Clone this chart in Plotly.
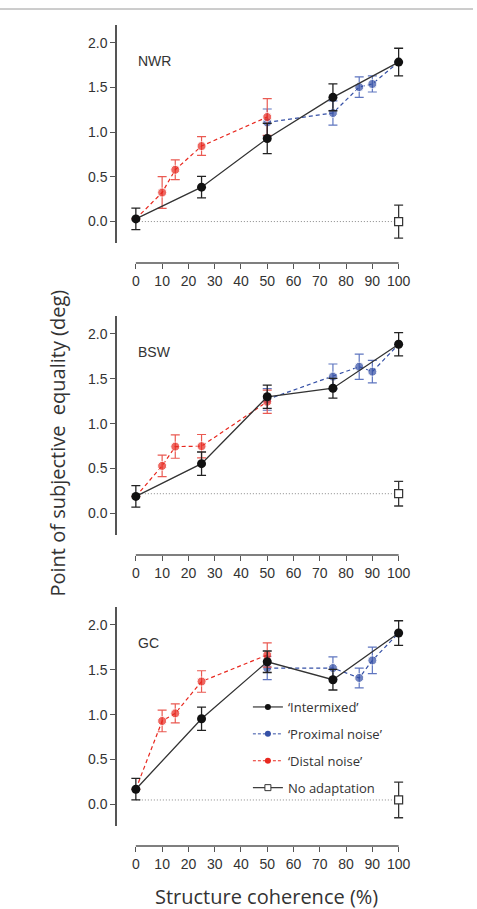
import plotly.graph_objects as go

W, H = 477, 909

panels = ["NWR", "BSW", "GC"]

inter_x = [0, 25, 50, 75, 100]
inter_y = {
    "NWR": [0.03, 0.385, 0.93, 1.39, 1.785],
    "BSW": [0.19, 0.555, 1.30, 1.395, 1.885],
    "GC":  [0.17, 0.955, 1.59, 1.39, 1.91],
}
inter_e = {
    "NWR": [0.12, 0.12, 0.17, 0.15, 0.155],
    "BSW": [0.12, 0.13, 0.13, 0.11, 0.13],
    "GC":  [0.12, 0.13, 0.12, 0.115, 0.137],
}

distal_x = [10, 15, 25, 50]
distal_y = {
    "NWR": [0.325, 0.58, 0.845, 1.17],
    "BSW": [0.53, 0.745, 0.75, 1.245],
    "GC":  [0.93, 1.015, 1.37, 1.665],
}
distal_e = {
    "NWR": [0.178, 0.11, 0.105, 0.205],
    "BSW": [0.12, 0.13, 0.13, 0.13],
    "GC":  [0.12, 0.105, 0.12, 0.135],
}

prox_x = [50, 75, 85, 90]
prox_y = {
    "NWR": [1.11, 1.215, 1.505, 1.54],
    "BSW": [1.27, 1.525, 1.635, 1.58],
    "GC":  [1.52, 1.52, 1.41, 1.605],
}
prox_e = {
    "NWR": [0.15, 0.135, 0.115, 0.09],
    "BSW": [0.12, 0.14, 0.14, 0.125],
    "GC":  [0.13, 0.125, 0.11, 0.148],
}

noadapt_x = 100
noadapt_y = {"NWR": 0.0, "BSW": 0.22, "GC": 0.05}
noadapt_e = {"NWR": 0.185, "BSW": 0.137, "GC": 0.198}

x_ticks = [0, 10, 20, 30, 40, 50, 60, 70, 80, 90, 100]
y_ticks = [0.0, 0.5, 1.0, 1.5, 2.0]
y_ticktext = ["0.0", "0.5", "1.0", "1.5", "2.0"]

legend_names = ["\u2018Intermixed\u2019", "\u2018Proximal noise\u2019",
                "\u2018Distal noise\u2019", "No adaptation"]

BLACK = "#111111"
RED = "#e8281f"
RED_E = "#ea5a52"
BLUE = "#3550a6"
BLUE_E = "#5f76c0"
AX = "#555555"
TXT = "#333333"

# pixel geometry
ytop_px = [25, 316, 607]
ybot_px = [243, 535, 826]
xaxis_px = [263, 555, 846]
x0_px, x100_px = 137, 402
xdom_l, xdom_r = 118, 410
ppu = (x100_px - x0_px) / 100.0
xr = [-(x0_px - xdom_l) / ppu, 100 + (xdom_r - x100_px) / ppu]
yr = [-0.24, 2.2]

fig = go.Figure()
layout = dict(width=W, height=H, margin=dict(l=0, r=0, t=0, b=0),
              plot_bgcolor="white", paper_bgcolor="white", showlegend=True)
shapes = []
annotations = []

TICKFONT = dict(family="Liberation Sans, Arial", size=14, color=TXT)

for i, p in enumerate(panels):
    k = "" if i == 0 else str(i + 1)
    xa, ya = "x" + k, "y" + k
    ny = noadapt_y[p]
    # dotted baseline (no adaptation level)
    fig.add_trace(go.Scatter(x=[0, noadapt_x], y=[ny, ny], mode="lines",
                             line=dict(color="#888888", width=1, dash="1px,2px"),
                             xaxis=xa, yaxis=ya, showlegend=False, hoverinfo="skip"))
    # proximal noise (blue) connects to intermixed at 100
    fig.add_trace(go.Scatter(
        x=prox_x + [inter_x[-1]], y=prox_y[p] + [inter_y[p][-1]],
        mode="lines+markers",
        line=dict(color=BLUE, width=1.2, dash="4px,3px"),
        marker=dict(color=BLUE, size=[9] * len(prox_x) + [0]),
        error_y=dict(type="data", array=prox_e[p] + [0], color=BLUE_E,
                     thickness=1.2, width=4.5),
        xaxis=xa, yaxis=ya, showlegend=False, cliponaxis=False))
    # distal noise (red) connects to intermixed at 0
    fig.add_trace(go.Scatter(
        x=[inter_x[0]] + distal_x, y=[inter_y[p][0]] + distal_y[p],
        mode="lines+markers",
        line=dict(color=RED, width=1.2, dash="4px,3px"),
        marker=dict(color=RED, size=[0] + [9] * len(distal_x)),
        error_y=dict(type="data", array=[0] + distal_e[p], color=RED_E,
                     thickness=1.2, width=4.5),
        xaxis=xa, yaxis=ya, showlegend=False, cliponaxis=False))
    # intermixed
    fig.add_trace(go.Scatter(
        x=inter_x, y=inter_y[p], mode="lines+markers",
        line=dict(color="#333333", width=1.3),
        marker=dict(color=BLACK, size=9),
        error_y=dict(type="data", array=inter_e[p], color="#222222",
                     thickness=1.3, width=4.5),
        xaxis=xa, yaxis=ya, showlegend=False, cliponaxis=False))
    # no adaptation
    fig.add_trace(go.Scatter(
        x=[noadapt_x], y=[ny], mode="markers",
        marker=dict(color="white", size=8, symbol="square",
                    line=dict(color="#333333", width=1.2)),
        error_y=dict(type="data", array=[noadapt_e[p]], color="#333333",
                     thickness=1.3, width=4.5),
        xaxis=xa, yaxis=ya, showlegend=False, cliponaxis=False))

    ydom = [1 - ybot_px[i] / H, 1 - ytop_px[i] / H]
    layout["xaxis" + k] = dict(
        domain=[xdom_l / W, xdom_r / W], range=xr, anchor="free",
        position=1 - xaxis_px[i] / H, showline=False, showgrid=False,
        zeroline=False, ticks="outside", ticklen=5, tickwidth=1.3,
        tickcolor=AX, tickvals=x_ticks, tickfont=TICKFONT)
    layout["yaxis" + k] = dict(
        domain=ydom, range=yr, anchor=xa, showline=True, linecolor=AX,
        linewidth=1.5, showgrid=False, zeroline=False, ticks="outside",
        ticklen=5, tickwidth=1.3, tickcolor=AX, tickvals=y_ticks,
        ticktext=y_ticktext, tickfont=TICKFONT)
    shapes.append(dict(type="line", xref=xa, yref="paper", x0=0, x1=100,
                       y0=1 - xaxis_px[i] / H, y1=1 - xaxis_px[i] / H,
                       line=dict(color=AX, width=1.5)))
    annotations.append(dict(text=p, xref=xa, yref=ya, x=0, y=1.8,
                            xanchor="left", yanchor="middle", showarrow=False,
                            font=dict(family="Liberation Sans, Arial", size=14,
                                      color=TXT)))

# legend-only traces (panel 3)
leg_styles = [
    dict(line=dict(color="#333333", width=1.2),
         marker=dict(color=BLACK, size=6)),
    dict(line=dict(color=BLUE, width=1, dash="3px,2px"),
         marker=dict(color=BLUE, size=6)),
    dict(line=dict(color=RED, width=1, dash="3px,2px"),
         marker=dict(color=RED, size=6)),
    dict(line=dict(color="#333333", width=1.2),
         marker=dict(color="white", size=6, symbol="square",
                     line=dict(color="#333333", width=1))),
]
for j, (nm, st) in enumerate(zip(legend_names, leg_styles)):
    fig.add_trace(go.Scatter(x=[None], y=[None], mode="lines+markers",
                             name=nm, xaxis="x3", yaxis="y3",
                             legendgroup="g%d" % j, showlegend=True, **st))

layout["legend"] = dict(x=250 / W, y=1 - 692 / H, xanchor="left", yanchor="top",
                        bgcolor="rgba(0,0,0,0)", tracegroupgap=7,
                        itemwidth=30,
                        font=dict(family="Open Sans", size=13, color=TXT))

# top grey rule
shapes.append(dict(type="line", xref="paper", yref="paper", x0=0, x1=1,
                   y0=1 - 9 / H, y1=1 - 9 / H,
                   line=dict(color="#9a9a9a", width=1)))

annotations.append(dict(text="Point of subjective  equality (deg)",
                        xref="paper", yref="paper", x=58 / W, y=1 - 443 / H,
                        textangle=-90, showarrow=False, xanchor="center",
                        yanchor="middle",
                        font=dict(family="Open Sans", size=20, color=TXT)))
annotations.append(dict(text="Structure coherence (%)", xref="paper",
                        yref="paper", x=269 / W, y=1 - 896 / H,
                        showarrow=False, xanchor="center", yanchor="middle",
                        font=dict(family="Open Sans", size=20, color=TXT)))

layout["shapes"] = shapes
layout["annotations"] = annotations
fig.update_layout(**layout)
fig.write_html("out.html")
